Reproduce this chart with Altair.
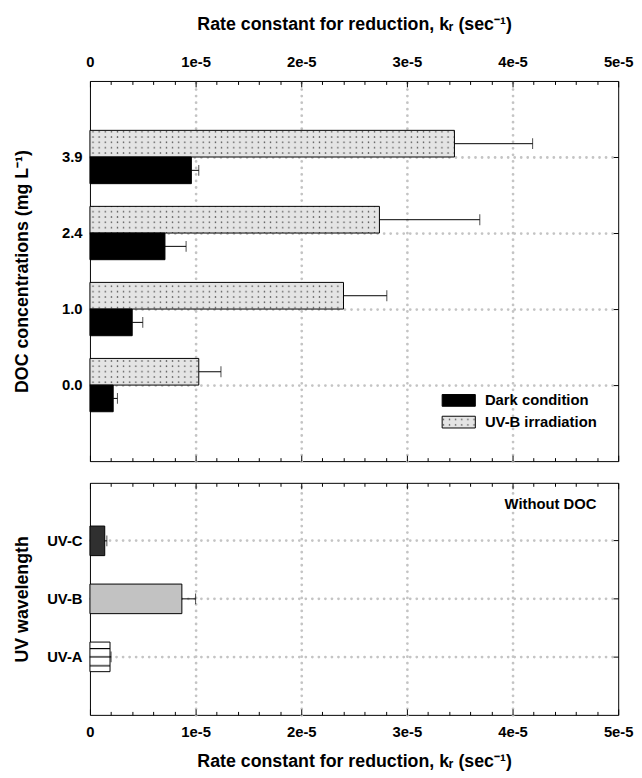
import altair as alt
import pandas as pd

# ---------------- data ----------------
doc_levels = ["3.9", "2.4", "1.0", "0.0"]
series = ["Dark condition", "UV-B irradiation"]
dark_rate = [9.6e-6, 7.1e-6, 4.0e-6, 2.2e-6]
dark_err = [0.7e-6, 2.0e-6, 1.0e-6, 0.4e-6]
uvb_rate = [3.45e-5, 2.74e-5, 2.40e-5, 1.03e-5]
uvb_err = [0.74e-5, 0.95e-5, 0.41e-5, 0.21e-5]

uv_bands = ["UV-C", "UV-B", "UV-A"]
uv_rate = [1.4e-6, 8.7e-6, 1.9e-6]
uv_err = [0.2e-6, 1.3e-6, 0.1e-6]

major_ticks = [0, 1e-5, 2e-5, 3e-5, 4e-5, 5e-5]
grid_ticks = [1e-5, 2e-5, 3e-5, 4e-5]
minor_ticks = [2e-6, 4e-6, 6e-6, 8e-6, 1.2e-5, 1.4e-5, 1.6e-5, 1.8e-5,
               2.2e-5, 2.4e-5, 2.6e-5, 2.8e-5, 3.2e-5, 3.4e-5, 3.6e-5, 3.8e-5,
               4.2e-5, 4.4e-5, 4.6e-5, 4.8e-5]

dark_df = pd.DataFrame({"level": doc_levels, "condition": series[0],
                        "rate": dark_rate, "err": dark_err})
dark_df["hi"] = dark_df["rate"] + dark_df["err"]
uvb_df = pd.DataFrame({"level": doc_levels, "condition": series[1],
                       "rate": uvb_rate, "err": uvb_err})
uvb_df["hi"] = uvb_df["rate"] + uvb_df["err"]

bot_df = pd.DataFrame({"band": uv_bands, "rate": uv_rate, "err": uv_err})
bot_df["hi"] = bot_df["rate"] + bot_df["err"]

# ---------------- fill patterns (page defs) ----------------
_DEFS = (
    '<style>body{overflow:hidden}</style>'
    '<svg style="position:absolute;width:0;height:0;overflow:hidden" aria-hidden="true"><defs>'
    '<pattern id="dots" patternUnits="userSpaceOnUse" width="6.2" height="5.4">'
    '<rect width="6.2" height="5.4" fill="#e4e4e4"/>'
    '<circle cx="3.1" cy="2.7" r="0.75" fill="#303030"/></pattern>'
    '<pattern id="hlines" patternUnits="objectBoundingBox" patternContentUnits="objectBoundingBox" width="1" height="1">'
    '<rect width="1" height="1" fill="#ffffff"/>'
    '<rect y="0.2" width="1" height="0.04" fill="#000000"/>'
    '<rect y="0.48" width="1" height="0.04" fill="#000000"/>'
    '<rect y="0.78" width="1" height="0.04" fill="#000000"/>'
    '</pattern></defs></svg>'
)
try:
    import altair.utils.html as _ah
    _std = _ah.TEMPLATES["standard"]

    class _WithDefs:
        def render(self, *args, **kwargs):
            return _std.render(*args, **kwargs).replace("<body>", "<body>" + _DEFS, 1)

    _ah.TEMPLATES["standard"] = _WithDefs()
except Exception:
    pass

# ---------------- styles ----------------
FONT = "Liberation Sans"
DOTS = "url(#dots) #e4e4e4"
HLINES = "url(#hlines) #ffffff"
GRID = dict(gridColor="#c4c4c4", gridDash=[0.01, 6.6], gridCap="round", gridWidth=2.8)
LABEL_EXPR = "datum.value == 0 ? '0' : format(datum.value, '.0e')"
X_TITLE = "Rate constant for reduction, kᵣ (sec⁻¹)"

W = 535
H_TOP = 385
H_BOT = 235
BAR_H = 27          # height of each bar in the DOC panel
HALF = BAR_H / 2

x_scale = alt.Scale(domain=[0, 5e-5], nice=False, zero=True)
y_top_scale = alt.Scale(domain=doc_levels, paddingInner=0, paddingOuter=0.5)
y_bot_scale = alt.Scale(domain=uv_bands, paddingInner=0.49, paddingOuter=0.745)
color_scale = alt.Scale(domain=series, range=["#000000", DOTS])


def hidden(df, yfield, yscale, x_axis=None, y_axis=None):
    """Invisible marks that only carry an extra axis (ticks / grid)."""
    return alt.Chart(df).mark_point(opacity=0).encode(
        x=alt.X("rate:Q", scale=x_scale, axis=x_axis),
        y=alt.Y(yfield, scale=yscale, axis=y_axis),
    )


def tick_axis(orient, vals, size):
    return alt.Axis(orient=orient, values=vals, tickSize=size, offset=-size, ticks=True,
                    labels=False, domain=False, grid=False, title=None, minExtent=0,
                    tickColor="black", tickWidth=1)


def guide_layers(df, yfield, yscale):
    layers = [hidden(df, yfield, yscale,
                     x_axis=alt.Axis(orient="bottom", values=grid_ticks, grid=True, ticks=False,
                                     labels=False, domain=False, title=None, minExtent=0, **GRID))]
    for orient in ("top", "bottom"):
        for vals, size in ((major_ticks, 6), (minor_ticks, 3.5)):
            layers.append(hidden(df, yfield, yscale, x_axis=tick_axis(orient, vals, size)))
    layers.append(hidden(df, yfield, yscale,
                         y_axis=alt.Axis(orient="right", offset=-5, tickSize=5, ticks=True,
                                         labels=False, domain=False, grid=False, title=None,
                                         minExtent=0, tickColor="black", tickWidth=1)))
    return layers


def series_layers(df, dy, with_axes):
    if with_axes:
        x_axis = alt.Axis(orient="top", values=major_ticks, labelExpr=LABEL_EXPR,
                          labelFlush=False, labelPadding=12, ticks=False, domain=False,
                          grid=False, title=X_TITLE, titleY=-57, titleBaseline="middle")
        y_axis = alt.Axis(orient="left", ticks=False, domain=False, grid=True, labelPadding=8,
                          title="DOC concentrations (mg L⁻¹)", titleX=-68,
                          titleBaseline="middle", **GRID)
    else:
        x_axis = None
        y_axis = None
    bars = alt.Chart(df).mark_bar(stroke="black", strokeWidth=1, height=BAR_H, yOffset=dy).encode(
        x=alt.X("rate:Q", scale=x_scale, axis=x_axis),
        y=alt.Y("level:N", scale=y_top_scale, axis=y_axis),
        color=alt.Color("condition:N", scale=color_scale,
                        legend=alt.Legend(orient="none", legendX=356, legendY=316, title=None,
                                          padding=0,
                                          symbolType="M-2.4,-0.85H2.4V0.85H-2.4Z", symbolSize=196,
                                          symbolOffset=10, labelOffset=19, rowPadding=5,
                                          symbolStrokeColor="black", symbolStrokeWidth=1,
                                          labelFont=FONT, labelFontSize=15,
                                          labelFontWeight="bold", labelColor="black")),
    )
    rule = alt.Chart(df).mark_rule(color="black", strokeWidth=1, yOffset=dy).encode(
        x=alt.X("rate:Q", scale=x_scale, axis=None),
        x2="hi:Q",
        y=alt.Y("level:N", scale=y_top_scale, axis=None),
    )
    cap = alt.Chart(df).mark_tick(color="black", thickness=1, size=11, yOffset=dy).encode(
        x=alt.X("hi:Q", scale=x_scale, axis=None),
        y=alt.Y("level:N", scale=y_top_scale, axis=None),
    )
    return [bars, rule, cap]


# ---------------- top panel ----------------
top = alt.layer(
    *guide_layers(dark_df, "level:N", y_top_scale),
    *series_layers(uvb_df, -HALF, True),
    *series_layers(dark_df, HALF, False),
).resolve_axis(x="independent", y="independent").properties(width=W, height=H_TOP)

# ---------------- bottom panel ----------------
b_bars = alt.Chart(bot_df).mark_bar(stroke="black", strokeWidth=1).encode(
    x=alt.X("rate:Q", scale=x_scale,
            axis=alt.Axis(orient="bottom", values=major_ticks, labelExpr=LABEL_EXPR,
                          labelFlush=False, labelPadding=10, ticks=False, domain=False,
                          grid=False, title=X_TITLE, titleY=47, titleBaseline="middle")),
    y=alt.Y("band:N", scale=y_bot_scale,
            axis=alt.Axis(orient="left", ticks=False, domain=False, grid=True, labelPadding=8,
                          title="UV wavelength", titleX=-68, titleBaseline="middle", **GRID)),
    fill=alt.Fill("band:N",
                  scale=alt.Scale(domain=uv_bands, range=["#303030", "#c2c2c2", HLINES]),
                  legend=None),
)
b_rule = alt.Chart(bot_df).mark_rule(color="black", strokeWidth=1).encode(
    x=alt.X("rate:Q", scale=x_scale, axis=None),
    x2="hi:Q",
    y=alt.Y("band:N", scale=y_bot_scale, axis=None),
)
b_cap = alt.Chart(bot_df).mark_tick(color="black", thickness=1, size=11).encode(
    x=alt.X("hi:Q", scale=x_scale, axis=None),
    y=alt.Y("band:N", scale=y_bot_scale, axis=None),
)

bottom = alt.layer(
    *guide_layers(bot_df, "band:N", y_bot_scale),
    b_bars, b_rule, b_cap,
    title=alt.TitleParams(text="Without DOC", anchor="end", orient="top", offset=-30, dx=-37,
                          font=FONT, fontSize=15, fontWeight="bold", color="black"),
).resolve_axis(x="independent", y="independent").properties(width=W, height=H_BOT)

chart = alt.vconcat(top, bottom, spacing=20).resolve_scale(
    color="independent", fill="independent"
).resolve_legend(color="independent", fill="independent").properties(
    padding={"left": 5, "top": 2, "right": 0, "bottom": 0}
).configure(background="white").configure_view(
    stroke="black", strokeWidth=1
).configure_axis(
    labelFont=FONT, labelFontSize=15, labelFontWeight="bold", labelColor="black",
    titleFont=FONT, titleFontSize=18, titleFontWeight="bold", titleColor="black",
)

chart.save("out.html", embed_options={"renderer": "svg", "actions": False})
